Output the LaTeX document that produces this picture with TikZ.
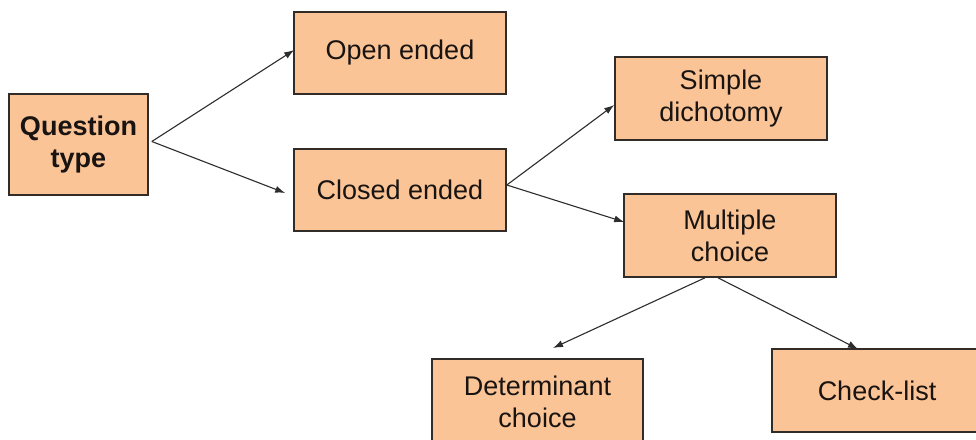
\documentclass[tikz,border=0pt]{standalone}
\usepackage{fontspec}
\setmainfont{Liberation Sans}
\usetikzlibrary{arrows.meta,calc}
\definecolor{boxfill}{RGB}{250,196,150}
\definecolor{boxline}{RGB}{50,44,40}
\definecolor{txt}{RGB}{25,20,18}
\definecolor{arr}{RGB}{45,45,45}
\tikzset{
  qbox/.style={draw=boxline, line width=1.6pt, fill=boxfill, rectangle, inner sep=0pt,
    align=center, text=txt, font=\fontsize{27}{32}\selectfont},
  conn/.style={draw=arr, line width=1.1pt, -{Latex[length=10pt,width=7pt]}}
}
\begin{document}
\begin{tikzpicture}[x=1pt,y=-1pt]
\useasboundingbox (0,0) rectangle (976,439);
\clip (0,0) rectangle (976,439);
\fill[white] (0,0) rectangle (976,439);
\node[qbox, minimum width=139pt, minimum height=101pt, font=\fontsize{27}{32}\selectfont\bfseries] (qt) at (78.5,144.5) {Question\\type};
\node[qbox, minimum width=212pt, minimum height=82pt] (open) at (400,53) {Open ended};
\node[qbox, minimum width=212pt, minimum height=82pt] (closed) at (400,190) {Closed ended};
\node[qbox, minimum width=212pt, minimum height=83pt] (simple) at (721,98.5) {Simple\\dichotomy};
\node[qbox, minimum width=212pt, minimum height=83pt] (mult) at (730,235.5) {Multiple\\choice};
\node[qbox, minimum width=211pt, minimum height=85pt] (det) at (537.5,401.5) {Determinant\\choice};
\node[qbox, minimum width=210pt, minimum height=83pt] (check) at (877,390.5) {Check-list};
\coordinate (detend) at (553,348);
\coordinate (checkend) at (858,349);
\draw[conn] ($(qt.east)+(3,-3)$) -- ($(open.west)+(1,-3)$);
\draw[conn] ($(qt.east)+(3,-3)$) -- ($(closed.west)+(-8,3)$);
\draw[conn] ($(closed.east)+(0,-5)$) -- ($(simple.west)+(0,6.5)$);
\draw[conn] ($(closed.east)+(0,-5)$) -- ($(mult.west)+(1,-13.5)$);
\draw[conn] ($(mult.south)+(-25,0)$) -- (detend);
\draw[conn] ($(mult.south)+(-12,0)$) -- (checkend);
\end{tikzpicture}
\end{document}
